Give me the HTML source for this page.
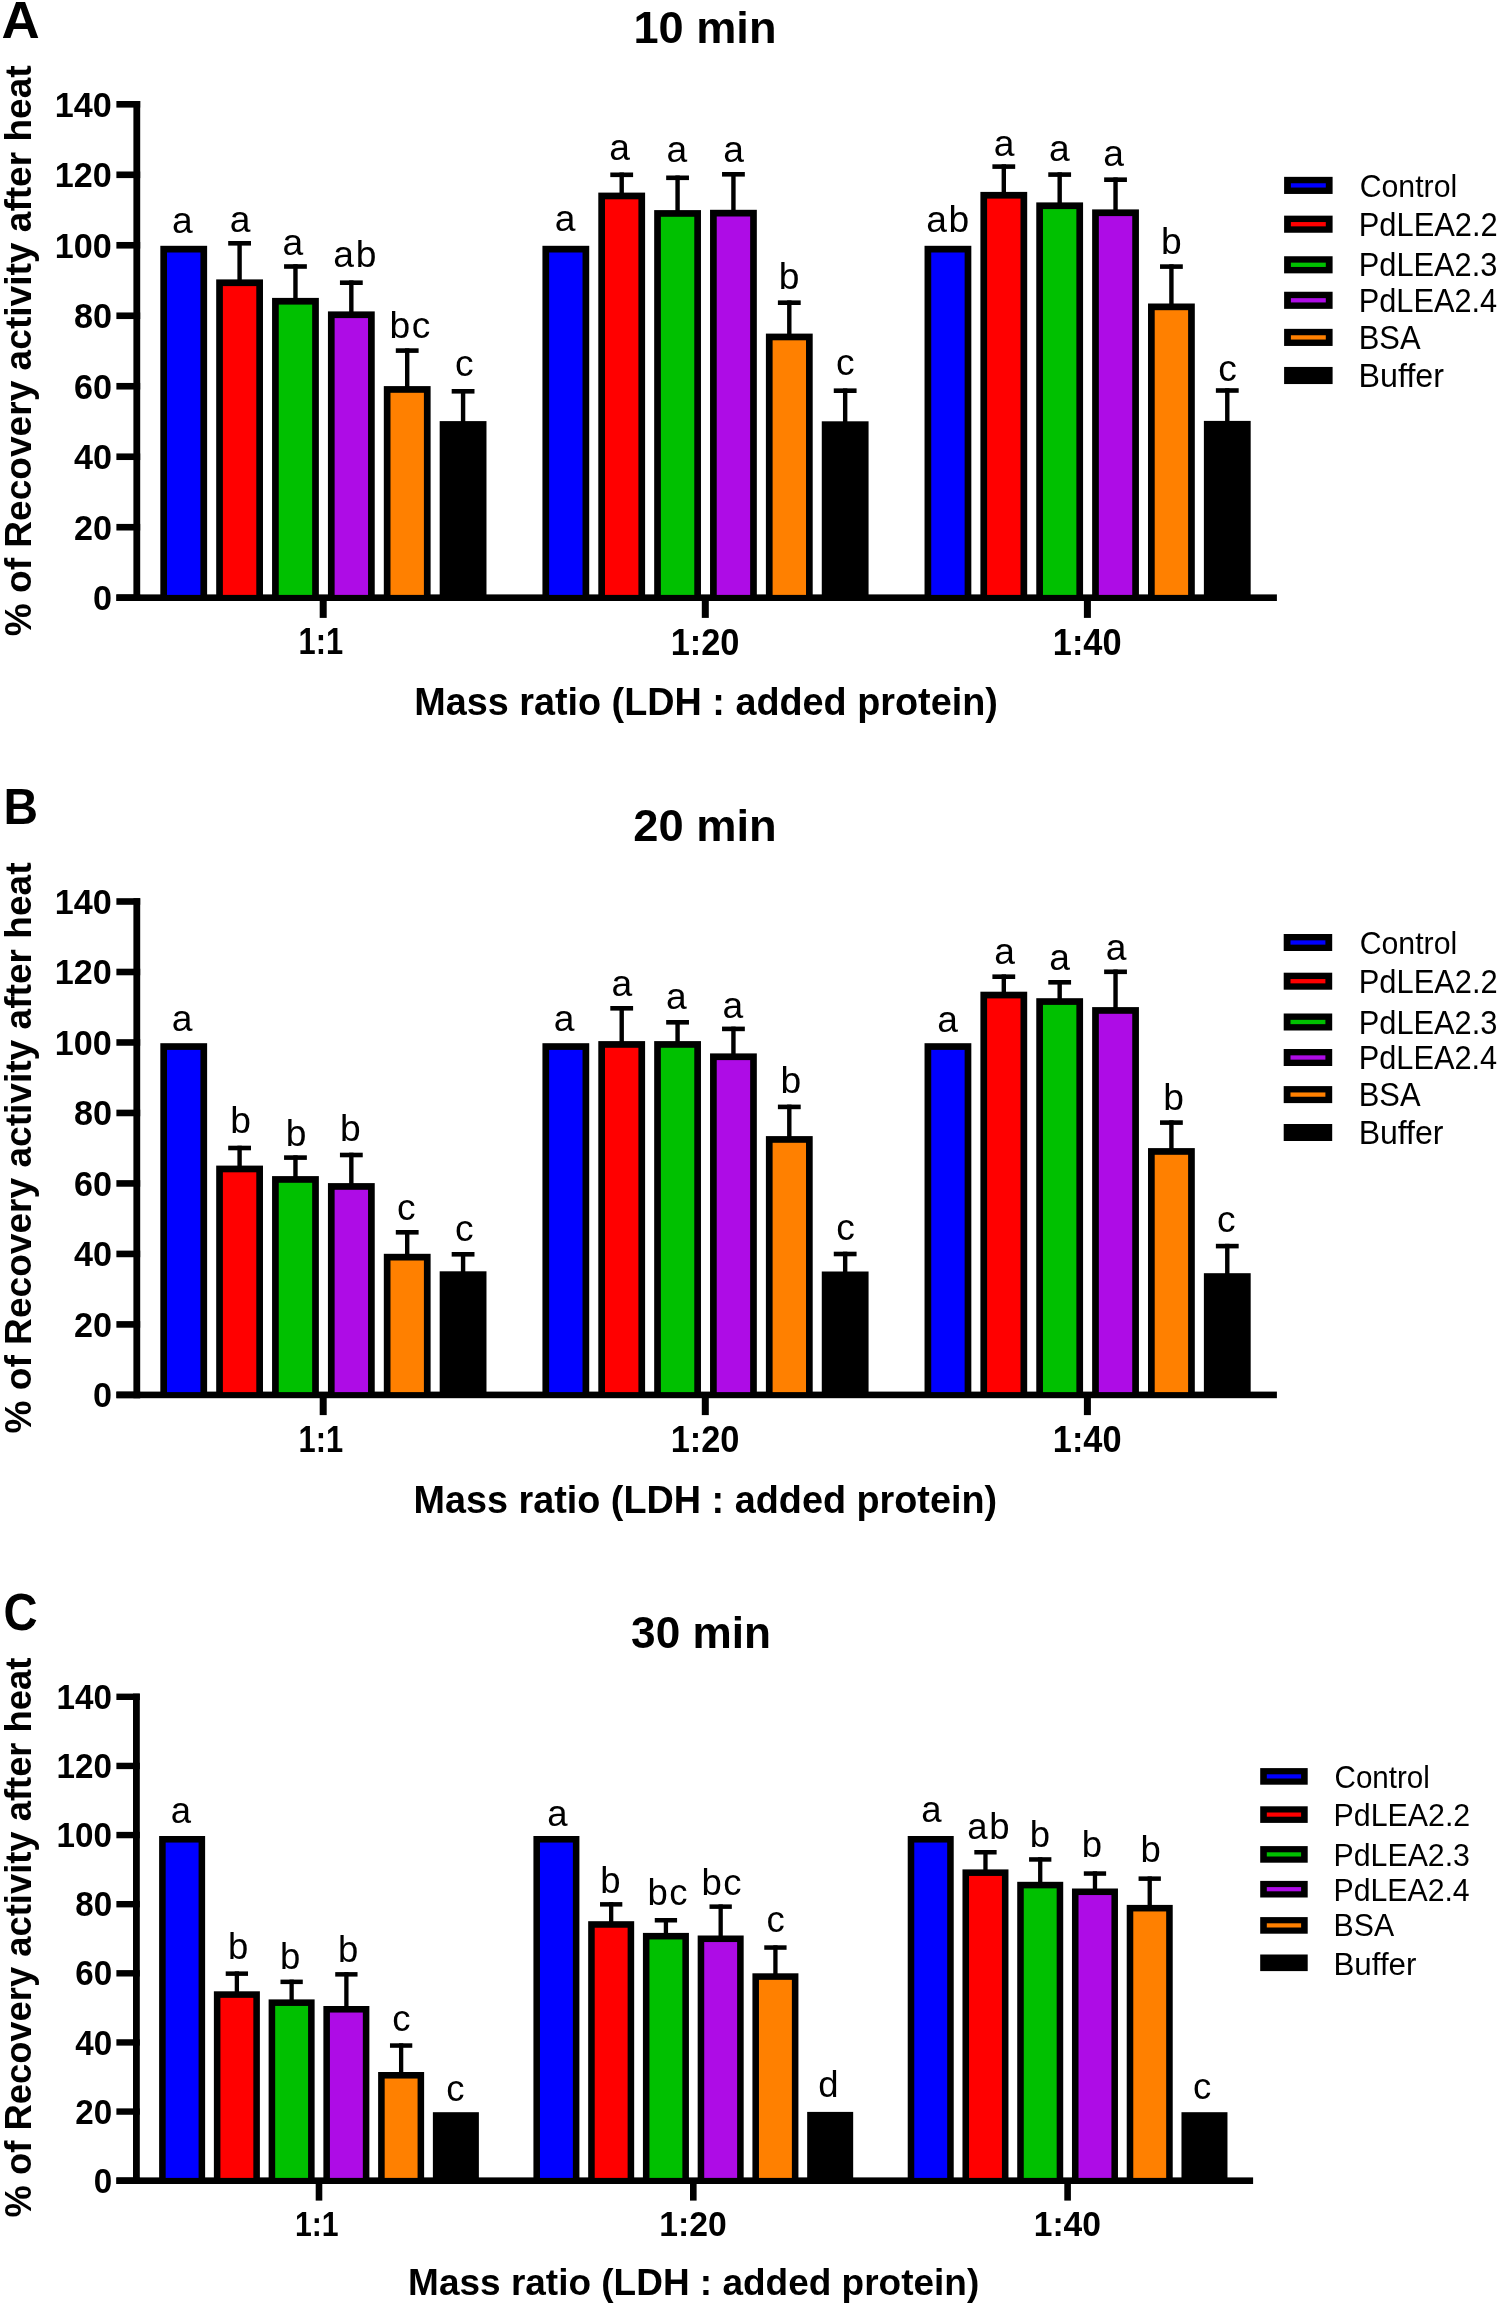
<!DOCTYPE html>
<html><head><meta charset="utf-8"><title>Recovery activity after heat</title>
<style>html,body{margin:0;padding:0;background:#fff;}svg{display:block;will-change:transform;}text{font-family:"Liberation Sans",sans-serif;fill:#000;}</style>
</head><body>
<svg width="1499" height="2306" viewBox="0 0 1499 2306">
<rect x="0" y="0" width="1499" height="2306" fill="#fff"/>
<rect x="133.40" y="101.00" width="6.80" height="500.00" fill="#000"/>
<rect x="116.40" y="594.40" width="23.80" height="6.60" fill="#000"/>
<rect x="116.40" y="523.91" width="23.80" height="6.60" fill="#000"/>
<rect x="116.40" y="453.43" width="23.80" height="6.60" fill="#000"/>
<rect x="116.40" y="382.94" width="23.80" height="6.60" fill="#000"/>
<rect x="116.40" y="312.46" width="23.80" height="6.60" fill="#000"/>
<rect x="116.40" y="241.97" width="23.80" height="6.60" fill="#000"/>
<rect x="116.40" y="171.49" width="23.80" height="6.60" fill="#000"/>
<rect x="116.40" y="101.00" width="23.80" height="6.60" fill="#000"/>
<rect x="116.40" y="594.40" width="1160.50" height="6.60" fill="#000"/>
<rect x="319.70" y="600.00" width="7.00" height="17.90" fill="#000"/>
<rect x="701.80" y="600.00" width="7.00" height="17.90" fill="#000"/>
<rect x="1083.90" y="600.00" width="7.00" height="17.90" fill="#000"/>
<rect x="160.32" y="245.80" width="46.80" height="349.60" fill="#000"/>
<rect x="167.02" y="252.50" width="33.40" height="342.40" fill="#0000ff"/>
<rect x="237.39" y="241.00" width="4.40" height="39.40" fill="#000"/>
<rect x="228.19" y="241.00" width="22.80" height="4.60" fill="#000"/>
<rect x="216.19" y="279.40" width="46.80" height="316.00" fill="#000"/>
<rect x="222.89" y="286.10" width="33.40" height="308.80" fill="#ff0000"/>
<rect x="293.26" y="264.20" width="4.40" height="34.70" fill="#000"/>
<rect x="284.06" y="264.20" width="22.80" height="4.60" fill="#000"/>
<rect x="272.06" y="297.90" width="46.80" height="297.50" fill="#000"/>
<rect x="278.76" y="304.60" width="33.40" height="290.30" fill="#00c000"/>
<rect x="349.13" y="280.40" width="4.40" height="32.00" fill="#000"/>
<rect x="339.94" y="280.40" width="22.80" height="4.60" fill="#000"/>
<rect x="327.94" y="311.40" width="46.80" height="284.00" fill="#000"/>
<rect x="334.63" y="318.10" width="33.40" height="276.80" fill="#ae0ce6"/>
<rect x="405.00" y="348.30" width="4.40" height="38.80" fill="#000"/>
<rect x="395.81" y="348.30" width="22.80" height="4.60" fill="#000"/>
<rect x="383.81" y="386.10" width="46.80" height="209.30" fill="#000"/>
<rect x="390.50" y="392.80" width="33.40" height="202.10" fill="#ff8000"/>
<rect x="460.88" y="389.00" width="4.40" height="33.10" fill="#000"/>
<rect x="451.68" y="389.00" width="22.80" height="4.60" fill="#000"/>
<rect x="439.68" y="421.10" width="46.80" height="174.30" fill="#000"/>
<rect x="542.43" y="245.80" width="46.80" height="349.60" fill="#000"/>
<rect x="549.13" y="252.50" width="33.40" height="342.40" fill="#0000ff"/>
<rect x="619.50" y="172.50" width="4.40" height="21.10" fill="#000"/>
<rect x="610.30" y="172.50" width="22.80" height="4.60" fill="#000"/>
<rect x="598.30" y="192.60" width="46.80" height="402.80" fill="#000"/>
<rect x="605.00" y="199.30" width="33.40" height="395.60" fill="#ff0000"/>
<rect x="675.37" y="175.50" width="4.40" height="35.60" fill="#000"/>
<rect x="666.17" y="175.50" width="22.80" height="4.60" fill="#000"/>
<rect x="654.17" y="210.10" width="46.80" height="385.30" fill="#000"/>
<rect x="660.87" y="216.80" width="33.40" height="378.10" fill="#00c000"/>
<rect x="731.23" y="172.00" width="4.40" height="38.80" fill="#000"/>
<rect x="722.03" y="172.00" width="22.80" height="4.60" fill="#000"/>
<rect x="710.03" y="209.80" width="46.80" height="385.60" fill="#000"/>
<rect x="716.74" y="216.50" width="33.40" height="378.40" fill="#ae0ce6"/>
<rect x="787.10" y="300.40" width="4.40" height="34.20" fill="#000"/>
<rect x="777.90" y="300.40" width="22.80" height="4.60" fill="#000"/>
<rect x="765.90" y="333.60" width="46.80" height="261.80" fill="#000"/>
<rect x="772.61" y="340.30" width="33.40" height="254.60" fill="#ff8000"/>
<rect x="842.97" y="388.40" width="4.40" height="33.90" fill="#000"/>
<rect x="833.77" y="388.40" width="22.80" height="4.60" fill="#000"/>
<rect x="821.77" y="421.30" width="46.80" height="174.10" fill="#000"/>
<rect x="924.53" y="245.80" width="46.80" height="349.60" fill="#000"/>
<rect x="931.23" y="252.50" width="33.40" height="342.40" fill="#0000ff"/>
<rect x="1001.60" y="164.30" width="4.40" height="28.60" fill="#000"/>
<rect x="992.40" y="164.30" width="22.80" height="4.60" fill="#000"/>
<rect x="980.40" y="191.90" width="46.80" height="403.50" fill="#000"/>
<rect x="987.10" y="198.60" width="33.40" height="396.30" fill="#ff0000"/>
<rect x="1057.47" y="172.30" width="4.40" height="31.10" fill="#000"/>
<rect x="1048.27" y="172.30" width="22.80" height="4.60" fill="#000"/>
<rect x="1036.27" y="202.40" width="46.80" height="393.00" fill="#000"/>
<rect x="1042.97" y="209.10" width="33.40" height="385.80" fill="#00c000"/>
<rect x="1113.34" y="177.40" width="4.40" height="33.00" fill="#000"/>
<rect x="1104.13" y="177.40" width="22.80" height="4.60" fill="#000"/>
<rect x="1092.13" y="209.40" width="46.80" height="386.00" fill="#000"/>
<rect x="1098.84" y="216.10" width="33.40" height="378.80" fill="#ae0ce6"/>
<rect x="1169.21" y="264.30" width="4.40" height="40.20" fill="#000"/>
<rect x="1160.01" y="264.30" width="22.80" height="4.60" fill="#000"/>
<rect x="1148.01" y="303.50" width="46.80" height="291.90" fill="#000"/>
<rect x="1154.71" y="310.20" width="33.40" height="284.70" fill="#ff8000"/>
<rect x="1225.08" y="388.20" width="4.40" height="33.70" fill="#000"/>
<rect x="1215.88" y="388.20" width="22.80" height="4.60" fill="#000"/>
<rect x="1203.88" y="420.90" width="46.80" height="174.50" fill="#000"/>
<text x="172.04" y="232.83" font-size="37.2" font-weight="normal">a</text>
<text x="229.74" y="231.83" font-size="37.2" font-weight="normal">a</text>
<text x="282.44" y="255.33" font-size="37.2" font-weight="normal">a</text>
<text x="333.35" y="266.83" font-size="37.2" font-weight="normal" letter-spacing="1.60">ab</text>
<text x="389.54" y="338.03" font-size="37.2" font-weight="normal" letter-spacing="1.60">bc</text>
<text x="454.91" y="376.23" font-size="37.2" font-weight="normal">c</text>
<text x="554.64" y="230.93" font-size="37.2" font-weight="normal">a</text>
<text x="609.24" y="159.73" font-size="37.2" font-weight="normal">a</text>
<text x="666.54" y="161.53" font-size="37.2" font-weight="normal">a</text>
<text x="723.34" y="161.53" font-size="37.2" font-weight="normal">a</text>
<text x="778.71" y="289.20" font-size="37.2" font-weight="normal">b</text>
<text x="836.11" y="375.33" font-size="37.2" font-weight="normal">c</text>
<text x="926.25" y="232.03" font-size="37.2" font-weight="normal" letter-spacing="1.60">ab</text>
<text x="993.64" y="155.73" font-size="37.2" font-weight="normal">a</text>
<text x="1049.04" y="161.13" font-size="37.2" font-weight="normal">a</text>
<text x="1103.34" y="166.23" font-size="37.2" font-weight="normal">a</text>
<text x="1161.11" y="253.70" font-size="37.2" font-weight="normal">b</text>
<text x="1218.21" y="380.53" font-size="37.2" font-weight="normal">c</text>
<rect x="1284.10" y="176.85" width="48.50" height="17.10" fill="#000"/>
<rect x="1290.90" y="183.25" width="34.90" height="4.30" fill="#0000ff"/>
<text transform="translate(1359.69,197.08) scale(0.9506,1)" font-size="31.83" font-weight="normal">Control</text>
<rect x="1284.10" y="215.65" width="48.50" height="17.10" fill="#000"/>
<rect x="1290.90" y="222.05" width="34.90" height="4.30" fill="#ff0000"/>
<text transform="translate(1358.73,235.60) scale(0.9425,1)" font-size="32.75" font-weight="normal">PdLEA2.2</text>
<rect x="1284.10" y="256.25" width="48.50" height="17.10" fill="#000"/>
<rect x="1290.90" y="262.65" width="34.90" height="4.30" fill="#00c000"/>
<text transform="translate(1358.74,276.40) scale(0.9403,1)" font-size="32.75" font-weight="normal">PdLEA2.3</text>
<rect x="1284.10" y="291.75" width="48.50" height="17.10" fill="#000"/>
<rect x="1290.90" y="298.15" width="34.90" height="4.30" fill="#ae0ce6"/>
<text transform="translate(1358.74,312.00) scale(0.9382,1)" font-size="32.75" font-weight="normal">PdLEA2.4</text>
<rect x="1284.10" y="328.85" width="48.50" height="17.10" fill="#000"/>
<rect x="1290.90" y="335.25" width="34.90" height="4.30" fill="#ff8000"/>
<text transform="translate(1358.73,348.70) scale(0.9430,1)" font-size="32.75" font-weight="normal">BSA</text>
<rect x="1284.10" y="366.95" width="48.50" height="17.10" fill="#000"/>
<text transform="translate(1358.62,386.90) scale(0.9842,1)" font-size="32.75" font-weight="normal">Buffer</text>
<text transform="translate(1.51,38.22) scale(1.0158,1)" font-size="52.06" font-weight="bold">A</text>
<text transform="translate(633.49,42.75) scale(1.0080,1)" font-size="44.79" font-weight="bold">10 min</text>
<text transform="translate(30.70,636.31) rotate(-90) scale(1.0067,1)" font-size="36.85" font-weight="bold">% of Recovery activity after heat</text>
<text transform="translate(414.15,715.40) scale(0.9588,1)" font-size="39.42" font-weight="bold">Mass ratio (LDH : added protein)</text>
<text transform="translate(298.55,654.30) scale(0.8558,1)" font-size="36.09" font-weight="bold">1:1</text>
<text transform="translate(670.64,654.50) scale(0.9448,1)" font-size="36.38" font-weight="bold">1:20</text>
<text transform="translate(1052.84,654.50) scale(0.9433,1)" font-size="36.38" font-weight="bold">1:40</text>
<text transform="translate(93.08,610.20) scale(0.9620,1)" font-size="35.51" font-weight="bold">0</text>
<text transform="translate(73.95,539.71) scale(0.9620,1)" font-size="35.51" font-weight="bold">20</text>
<text transform="translate(73.95,469.23) scale(0.9620,1)" font-size="35.51" font-weight="bold">40</text>
<text transform="translate(73.95,398.74) scale(0.9620,1)" font-size="35.51" font-weight="bold">60</text>
<text transform="translate(73.95,328.26) scale(0.9620,1)" font-size="35.51" font-weight="bold">80</text>
<text transform="translate(54.82,257.77) scale(0.9620,1)" font-size="35.51" font-weight="bold">100</text>
<text transform="translate(54.82,187.29) scale(0.9620,1)" font-size="35.51" font-weight="bold">120</text>
<text transform="translate(54.82,116.80) scale(0.9620,1)" font-size="35.51" font-weight="bold">140</text>
<rect x="133.40" y="898.20" width="6.80" height="500.00" fill="#000"/>
<rect x="116.40" y="1391.60" width="23.80" height="6.60" fill="#000"/>
<rect x="116.40" y="1321.11" width="23.80" height="6.60" fill="#000"/>
<rect x="116.40" y="1250.63" width="23.80" height="6.60" fill="#000"/>
<rect x="116.40" y="1180.14" width="23.80" height="6.60" fill="#000"/>
<rect x="116.40" y="1109.66" width="23.80" height="6.60" fill="#000"/>
<rect x="116.40" y="1039.17" width="23.80" height="6.60" fill="#000"/>
<rect x="116.40" y="968.69" width="23.80" height="6.60" fill="#000"/>
<rect x="116.40" y="898.20" width="23.80" height="6.60" fill="#000"/>
<rect x="116.40" y="1391.60" width="1160.50" height="6.60" fill="#000"/>
<rect x="319.70" y="1397.20" width="7.00" height="17.90" fill="#000"/>
<rect x="701.80" y="1397.20" width="7.00" height="17.90" fill="#000"/>
<rect x="1083.90" y="1397.20" width="7.00" height="17.90" fill="#000"/>
<rect x="160.32" y="1043.20" width="46.80" height="349.40" fill="#000"/>
<rect x="167.02" y="1049.90" width="33.40" height="342.20" fill="#0000ff"/>
<rect x="237.39" y="1145.70" width="4.40" height="20.90" fill="#000"/>
<rect x="228.19" y="1145.70" width="22.80" height="4.60" fill="#000"/>
<rect x="216.19" y="1165.60" width="46.80" height="227.00" fill="#000"/>
<rect x="222.89" y="1172.30" width="33.40" height="219.80" fill="#ff0000"/>
<rect x="293.26" y="1155.30" width="4.40" height="21.80" fill="#000"/>
<rect x="284.06" y="1155.30" width="22.80" height="4.60" fill="#000"/>
<rect x="272.06" y="1176.10" width="46.80" height="216.50" fill="#000"/>
<rect x="278.76" y="1182.80" width="33.40" height="209.30" fill="#00c000"/>
<rect x="349.13" y="1152.70" width="4.40" height="31.40" fill="#000"/>
<rect x="339.94" y="1152.70" width="22.80" height="4.60" fill="#000"/>
<rect x="327.94" y="1183.10" width="46.80" height="209.50" fill="#000"/>
<rect x="334.63" y="1189.80" width="33.40" height="202.30" fill="#ae0ce6"/>
<rect x="405.00" y="1230.00" width="4.40" height="24.80" fill="#000"/>
<rect x="395.81" y="1230.00" width="22.80" height="4.60" fill="#000"/>
<rect x="383.81" y="1253.80" width="46.80" height="138.80" fill="#000"/>
<rect x="390.50" y="1260.50" width="33.40" height="131.60" fill="#ff8000"/>
<rect x="460.88" y="1252.00" width="4.40" height="20.30" fill="#000"/>
<rect x="451.68" y="1252.00" width="22.80" height="4.60" fill="#000"/>
<rect x="439.68" y="1271.30" width="46.80" height="121.30" fill="#000"/>
<rect x="542.43" y="1043.20" width="46.80" height="349.40" fill="#000"/>
<rect x="549.13" y="1049.90" width="33.40" height="342.20" fill="#0000ff"/>
<rect x="619.50" y="1006.00" width="4.40" height="36.10" fill="#000"/>
<rect x="610.30" y="1006.00" width="22.80" height="4.60" fill="#000"/>
<rect x="598.30" y="1041.10" width="46.80" height="351.50" fill="#000"/>
<rect x="605.00" y="1047.80" width="33.40" height="344.30" fill="#ff0000"/>
<rect x="675.37" y="1020.00" width="4.40" height="22.10" fill="#000"/>
<rect x="666.17" y="1020.00" width="22.80" height="4.60" fill="#000"/>
<rect x="654.17" y="1041.10" width="46.80" height="351.50" fill="#000"/>
<rect x="660.87" y="1047.80" width="33.40" height="344.30" fill="#00c000"/>
<rect x="731.23" y="1026.60" width="4.40" height="27.80" fill="#000"/>
<rect x="722.03" y="1026.60" width="22.80" height="4.60" fill="#000"/>
<rect x="710.03" y="1053.40" width="46.80" height="339.20" fill="#000"/>
<rect x="716.74" y="1060.10" width="33.40" height="332.00" fill="#ae0ce6"/>
<rect x="787.10" y="1104.60" width="4.40" height="32.50" fill="#000"/>
<rect x="777.90" y="1104.60" width="22.80" height="4.60" fill="#000"/>
<rect x="765.90" y="1136.10" width="46.80" height="256.50" fill="#000"/>
<rect x="772.61" y="1142.80" width="33.40" height="249.30" fill="#ff8000"/>
<rect x="842.97" y="1251.70" width="4.40" height="20.80" fill="#000"/>
<rect x="833.77" y="1251.70" width="22.80" height="4.60" fill="#000"/>
<rect x="821.77" y="1271.50" width="46.80" height="121.10" fill="#000"/>
<rect x="924.53" y="1043.20" width="46.80" height="349.40" fill="#000"/>
<rect x="931.23" y="1049.90" width="33.40" height="342.20" fill="#0000ff"/>
<rect x="1001.60" y="974.40" width="4.40" height="18.30" fill="#000"/>
<rect x="992.40" y="974.40" width="22.80" height="4.60" fill="#000"/>
<rect x="980.40" y="991.70" width="46.80" height="400.90" fill="#000"/>
<rect x="987.10" y="998.40" width="33.40" height="393.70" fill="#ff0000"/>
<rect x="1057.47" y="980.00" width="4.40" height="19.20" fill="#000"/>
<rect x="1048.27" y="980.00" width="22.80" height="4.60" fill="#000"/>
<rect x="1036.27" y="998.20" width="46.80" height="394.40" fill="#000"/>
<rect x="1042.97" y="1004.90" width="33.40" height="387.20" fill="#00c000"/>
<rect x="1113.34" y="969.50" width="4.40" height="38.60" fill="#000"/>
<rect x="1104.13" y="969.50" width="22.80" height="4.60" fill="#000"/>
<rect x="1092.13" y="1007.10" width="46.80" height="385.50" fill="#000"/>
<rect x="1098.84" y="1013.80" width="33.40" height="378.30" fill="#ae0ce6"/>
<rect x="1169.21" y="1120.30" width="4.40" height="28.80" fill="#000"/>
<rect x="1160.01" y="1120.30" width="22.80" height="4.60" fill="#000"/>
<rect x="1148.01" y="1148.10" width="46.80" height="244.50" fill="#000"/>
<rect x="1154.71" y="1154.80" width="33.40" height="237.30" fill="#ff8000"/>
<rect x="1225.08" y="1243.80" width="4.40" height="30.40" fill="#000"/>
<rect x="1215.88" y="1243.80" width="22.80" height="4.60" fill="#000"/>
<rect x="1203.88" y="1273.20" width="46.80" height="119.40" fill="#000"/>
<text x="171.84" y="1030.93" font-size="37.2" font-weight="normal">a</text>
<text x="230.21" y="1133.30" font-size="37.2" font-weight="normal">b</text>
<text x="285.81" y="1145.70" font-size="37.2" font-weight="normal">b</text>
<text x="340.01" y="1141.00" font-size="37.2" font-weight="normal">b</text>
<text x="397.11" y="1220.03" font-size="37.2" font-weight="normal">c</text>
<text x="454.91" y="1241.03" font-size="37.2" font-weight="normal">c</text>
<text x="553.84" y="1031.33" font-size="37.2" font-weight="normal">a</text>
<text x="611.54" y="995.53" font-size="37.2" font-weight="normal">a</text>
<text x="665.94" y="1008.83" font-size="37.2" font-weight="normal">a</text>
<text x="722.54" y="1018.43" font-size="37.2" font-weight="normal">a</text>
<text x="780.51" y="1093.30" font-size="37.2" font-weight="normal">b</text>
<text x="836.31" y="1240.03" font-size="37.2" font-weight="normal">c</text>
<text x="937.14" y="1032.13" font-size="37.2" font-weight="normal">a</text>
<text x="994.34" y="964.43" font-size="37.2" font-weight="normal">a</text>
<text x="1049.24" y="969.53" font-size="37.2" font-weight="normal">a</text>
<text x="1105.74" y="959.73" font-size="37.2" font-weight="normal">a</text>
<text x="1163.31" y="1109.50" font-size="37.2" font-weight="normal">b</text>
<text x="1216.91" y="1231.73" font-size="37.2" font-weight="normal">c</text>
<rect x="1283.70" y="934.00" width="48.50" height="17.00" fill="#000"/>
<rect x="1290.50" y="940.35" width="34.90" height="4.30" fill="#0000ff"/>
<text transform="translate(1359.69,954.48) scale(0.9506,1)" font-size="31.83" font-weight="normal">Control</text>
<rect x="1283.70" y="972.70" width="48.50" height="17.00" fill="#000"/>
<rect x="1290.50" y="979.05" width="34.90" height="4.30" fill="#ff0000"/>
<text transform="translate(1358.73,993.00) scale(0.9425,1)" font-size="32.75" font-weight="normal">PdLEA2.2</text>
<rect x="1283.70" y="1013.50" width="48.50" height="17.00" fill="#000"/>
<rect x="1290.50" y="1019.85" width="34.90" height="4.30" fill="#00c000"/>
<text transform="translate(1358.74,1033.80) scale(0.9403,1)" font-size="32.75" font-weight="normal">PdLEA2.3</text>
<rect x="1283.70" y="1049.00" width="48.50" height="17.00" fill="#000"/>
<rect x="1290.50" y="1055.35" width="34.90" height="4.30" fill="#ae0ce6"/>
<text transform="translate(1358.74,1068.90) scale(0.9382,1)" font-size="32.75" font-weight="normal">PdLEA2.4</text>
<rect x="1283.70" y="1086.10" width="48.50" height="17.00" fill="#000"/>
<rect x="1290.50" y="1092.45" width="34.90" height="4.30" fill="#ff8000"/>
<text transform="translate(1358.73,1106.10) scale(0.9430,1)" font-size="32.75" font-weight="normal">BSA</text>
<rect x="1283.70" y="1124.00" width="48.50" height="17.00" fill="#000"/>
<text transform="translate(1358.64,1144.30) scale(0.9782,1)" font-size="32.75" font-weight="normal">Buffer</text>
<text transform="translate(3.45,823.90) scale(0.9574,1)" font-size="50.00" font-weight="bold">B</text>
<text transform="translate(633.34,840.96) scale(1.0234,1)" font-size="44.23" font-weight="bold">20 min</text>
<text transform="translate(30.70,1433.51) rotate(-90) scale(1.0067,1)" font-size="36.85" font-weight="bold">% of Recovery activity after heat</text>
<text transform="translate(413.45,1512.60) scale(0.9588,1)" font-size="39.42" font-weight="bold">Mass ratio (LDH : added protein)</text>
<text transform="translate(298.55,1451.50) scale(0.8558,1)" font-size="36.09" font-weight="bold">1:1</text>
<text transform="translate(670.64,1451.70) scale(0.9448,1)" font-size="36.38" font-weight="bold">1:20</text>
<text transform="translate(1052.84,1451.70) scale(0.9433,1)" font-size="36.38" font-weight="bold">1:40</text>
<text transform="translate(93.08,1407.40) scale(0.9620,1)" font-size="35.51" font-weight="bold">0</text>
<text transform="translate(73.95,1336.91) scale(0.9620,1)" font-size="35.51" font-weight="bold">20</text>
<text transform="translate(73.95,1266.43) scale(0.9620,1)" font-size="35.51" font-weight="bold">40</text>
<text transform="translate(73.95,1195.94) scale(0.9620,1)" font-size="35.51" font-weight="bold">60</text>
<text transform="translate(73.95,1125.46) scale(0.9620,1)" font-size="35.51" font-weight="bold">80</text>
<text transform="translate(54.82,1054.97) scale(0.9620,1)" font-size="35.51" font-weight="bold">100</text>
<text transform="translate(54.82,984.49) scale(0.9620,1)" font-size="35.51" font-weight="bold">120</text>
<text transform="translate(54.82,914.00) scale(0.9620,1)" font-size="35.51" font-weight="bold">140</text>
<rect x="133.00" y="1693.60" width="6.80" height="490.40" fill="#000"/>
<rect x="116.40" y="2177.50" width="23.40" height="6.40" fill="#000"/>
<rect x="116.40" y="2108.37" width="23.40" height="6.40" fill="#000"/>
<rect x="116.40" y="2039.24" width="23.40" height="6.40" fill="#000"/>
<rect x="116.40" y="1970.11" width="23.40" height="6.40" fill="#000"/>
<rect x="116.40" y="1900.99" width="23.40" height="6.40" fill="#000"/>
<rect x="116.40" y="1831.86" width="23.40" height="6.40" fill="#000"/>
<rect x="116.40" y="1762.73" width="23.40" height="6.40" fill="#000"/>
<rect x="116.40" y="1693.60" width="23.40" height="6.40" fill="#000"/>
<rect x="116.40" y="2177.40" width="1136.70" height="6.60" fill="#000"/>
<rect x="315.70" y="2183.00" width="6.60" height="17.60" fill="#000"/>
<rect x="690.00" y="2183.00" width="6.60" height="17.60" fill="#000"/>
<rect x="1064.30" y="2183.00" width="6.60" height="17.60" fill="#000"/>
<rect x="159.12" y="1836.00" width="46.00" height="342.40" fill="#000"/>
<rect x="165.68" y="1842.55" width="32.90" height="335.35" fill="#0000ff"/>
<rect x="234.72" y="1971.40" width="4.30" height="20.90" fill="#000"/>
<rect x="225.72" y="1971.40" width="22.30" height="4.50" fill="#000"/>
<rect x="213.88" y="1991.30" width="46.00" height="187.10" fill="#000"/>
<rect x="220.43" y="1997.85" width="32.90" height="180.05" fill="#ff0000"/>
<rect x="289.48" y="1979.60" width="4.30" height="20.80" fill="#000"/>
<rect x="280.48" y="1979.60" width="22.30" height="4.50" fill="#000"/>
<rect x="268.62" y="1999.40" width="46.00" height="179.00" fill="#000"/>
<rect x="275.18" y="2005.95" width="32.90" height="171.95" fill="#00c000"/>
<rect x="344.23" y="1972.10" width="4.30" height="34.90" fill="#000"/>
<rect x="335.23" y="1972.10" width="22.30" height="4.50" fill="#000"/>
<rect x="323.38" y="2006.00" width="46.00" height="172.40" fill="#000"/>
<rect x="329.93" y="2012.55" width="32.90" height="165.35" fill="#ae0ce6"/>
<rect x="398.98" y="2043.30" width="4.30" height="29.70" fill="#000"/>
<rect x="389.98" y="2043.30" width="22.30" height="4.50" fill="#000"/>
<rect x="378.12" y="2072.00" width="46.00" height="106.40" fill="#000"/>
<rect x="384.68" y="2078.55" width="32.90" height="99.35" fill="#ff8000"/>
<rect x="432.88" y="2112.20" width="46.00" height="66.20" fill="#000"/>
<rect x="533.42" y="1836.00" width="46.00" height="342.40" fill="#000"/>
<rect x="539.97" y="1842.55" width="32.90" height="335.35" fill="#0000ff"/>
<rect x="609.02" y="1902.10" width="4.30" height="20.10" fill="#000"/>
<rect x="600.02" y="1902.10" width="22.30" height="4.50" fill="#000"/>
<rect x="588.17" y="1921.20" width="46.00" height="257.20" fill="#000"/>
<rect x="594.72" y="1927.75" width="32.90" height="250.15" fill="#ff0000"/>
<rect x="663.77" y="1918.00" width="4.30" height="15.90" fill="#000"/>
<rect x="654.77" y="1918.00" width="22.30" height="4.50" fill="#000"/>
<rect x="642.92" y="1932.90" width="46.00" height="245.50" fill="#000"/>
<rect x="649.47" y="1939.45" width="32.90" height="238.45" fill="#00c000"/>
<rect x="718.52" y="1904.40" width="4.30" height="32.10" fill="#000"/>
<rect x="709.52" y="1904.40" width="22.30" height="4.50" fill="#000"/>
<rect x="697.67" y="1935.50" width="46.00" height="242.90" fill="#000"/>
<rect x="704.22" y="1942.05" width="32.90" height="235.85" fill="#ae0ce6"/>
<rect x="773.27" y="1945.30" width="4.30" height="29.00" fill="#000"/>
<rect x="764.27" y="1945.30" width="22.30" height="4.50" fill="#000"/>
<rect x="752.42" y="1973.30" width="46.00" height="205.10" fill="#000"/>
<rect x="758.97" y="1979.85" width="32.90" height="198.05" fill="#ff8000"/>
<rect x="807.17" y="2111.90" width="46.00" height="66.50" fill="#000"/>
<rect x="907.72" y="1836.00" width="46.00" height="342.40" fill="#000"/>
<rect x="914.27" y="1842.55" width="32.90" height="335.35" fill="#0000ff"/>
<rect x="983.32" y="1850.00" width="4.30" height="20.40" fill="#000"/>
<rect x="974.32" y="1850.00" width="22.30" height="4.50" fill="#000"/>
<rect x="962.47" y="1869.40" width="46.00" height="309.00" fill="#000"/>
<rect x="969.02" y="1875.95" width="32.90" height="301.95" fill="#ff0000"/>
<rect x="1038.07" y="1857.20" width="4.30" height="25.60" fill="#000"/>
<rect x="1029.07" y="1857.20" width="22.30" height="4.50" fill="#000"/>
<rect x="1017.22" y="1881.80" width="46.00" height="296.60" fill="#000"/>
<rect x="1023.77" y="1888.35" width="32.90" height="289.55" fill="#00c000"/>
<rect x="1092.82" y="1871.30" width="4.30" height="18.20" fill="#000"/>
<rect x="1083.82" y="1871.30" width="22.30" height="4.50" fill="#000"/>
<rect x="1071.97" y="1888.50" width="46.00" height="289.90" fill="#000"/>
<rect x="1078.52" y="1895.05" width="32.90" height="282.85" fill="#ae0ce6"/>
<rect x="1147.57" y="1876.40" width="4.30" height="29.50" fill="#000"/>
<rect x="1138.57" y="1876.40" width="22.30" height="4.50" fill="#000"/>
<rect x="1126.72" y="1904.90" width="46.00" height="273.50" fill="#000"/>
<rect x="1133.27" y="1911.45" width="32.90" height="266.45" fill="#ff8000"/>
<rect x="1181.47" y="2112.20" width="46.00" height="66.20" fill="#000"/>
<text x="170.75" y="1822.74" font-size="36.5" font-weight="normal">a</text>
<text x="227.91" y="1959.00" font-size="36.5" font-weight="normal">b</text>
<text x="280.12" y="1969.00" font-size="36.5" font-weight="normal">b</text>
<text x="337.92" y="1962.00" font-size="36.5" font-weight="normal">b</text>
<text x="392.29" y="2030.54" font-size="36.5" font-weight="normal">c</text>
<text x="446.19" y="2100.54" font-size="36.5" font-weight="normal">c</text>
<text x="547.35" y="1825.54" font-size="36.5" font-weight="normal">a</text>
<text x="600.21" y="1893.10" font-size="36.5" font-weight="normal">b</text>
<text x="647.42" y="1904.94" font-size="36.5" font-weight="normal" letter-spacing="1.60">bc</text>
<text x="701.42" y="1894.63" font-size="36.5" font-weight="normal" letter-spacing="1.60">bc</text>
<text x="766.49" y="1931.74" font-size="36.5" font-weight="normal">c</text>
<text x="818.13" y="2097.04" font-size="36.5" font-weight="normal">d</text>
<text x="921.35" y="1821.54" font-size="36.5" font-weight="normal">a</text>
<text x="967.34" y="1838.63" font-size="36.5" font-weight="normal" letter-spacing="1.60">ab</text>
<text x="1029.82" y="1847.10" font-size="36.5" font-weight="normal">b</text>
<text x="1081.71" y="1856.90" font-size="36.5" font-weight="normal">b</text>
<text x="1140.41" y="1862.30" font-size="36.5" font-weight="normal">b</text>
<text x="1192.99" y="2099.44" font-size="36.5" font-weight="normal">c</text>
<rect x="1260.20" y="1768.10" width="47.50" height="16.60" fill="#000"/>
<rect x="1266.80" y="1774.30" width="34.30" height="4.20" fill="#0000ff"/>
<text transform="translate(1334.52,1787.79) scale(0.9504,1)" font-size="31.13" font-weight="normal">Control</text>
<rect x="1260.20" y="1806.30" width="47.50" height="16.60" fill="#000"/>
<rect x="1266.80" y="1812.50" width="34.30" height="4.20" fill="#ff0000"/>
<text transform="translate(1333.57,1825.70) scale(0.9481,1)" font-size="32.03" font-weight="normal">PdLEA2.2</text>
<rect x="1260.20" y="1846.10" width="47.50" height="16.60" fill="#000"/>
<rect x="1266.80" y="1852.30" width="34.30" height="4.20" fill="#00c000"/>
<text transform="translate(1333.58,1866.10) scale(0.9459,1)" font-size="32.03" font-weight="normal">PdLEA2.3</text>
<rect x="1260.20" y="1880.90" width="47.50" height="16.60" fill="#000"/>
<rect x="1266.80" y="1887.10" width="34.30" height="4.20" fill="#ae0ce6"/>
<text transform="translate(1333.58,1900.50) scale(0.9438,1)" font-size="32.03" font-weight="normal">PdLEA2.4</text>
<rect x="1260.20" y="1917.10" width="47.50" height="16.60" fill="#000"/>
<rect x="1266.80" y="1923.30" width="34.30" height="4.20" fill="#ff8000"/>
<text transform="translate(1333.58,1936.40) scale(0.9448,1)" font-size="32.03" font-weight="normal">BSA</text>
<rect x="1260.20" y="1954.50" width="47.50" height="16.60" fill="#000"/>
<text transform="translate(1333.50,1974.50) scale(0.9771,1)" font-size="32.03" font-weight="normal">Buffer</text>
<text transform="translate(3.41,1629.89) scale(0.9213,1)" font-size="51.27" font-weight="bold">C</text>
<text transform="translate(631.12,1647.96) scale(1.0110,1)" font-size="43.66" font-weight="bold">30 min</text>
<text transform="translate(31.00,2217.39) rotate(-90) scale(0.9983,1)" font-size="36.44" font-weight="bold">% of Recovery activity after heat</text>
<text transform="translate(408.11,2294.80) scale(0.9814,1)" font-size="37.68" font-weight="bold">Mass ratio (LDH : added protein)</text>
<text transform="translate(294.99,2236.00) scale(0.8688,1)" font-size="34.78" font-weight="bold">1:1</text>
<text transform="translate(659.28,2236.20) scale(0.9604,1)" font-size="35.07" font-weight="bold">1:20</text>
<text transform="translate(1033.68,2236.20) scale(0.9589,1)" font-size="35.07" font-weight="bold">1:40</text>
<text transform="translate(93.78,2192.85) scale(0.9620,1)" font-size="34.49" font-weight="bold">0</text>
<text transform="translate(75.20,2123.72) scale(0.9620,1)" font-size="34.49" font-weight="bold">20</text>
<text transform="translate(75.20,2054.59) scale(0.9620,1)" font-size="34.49" font-weight="bold">40</text>
<text transform="translate(75.20,1985.46) scale(0.9620,1)" font-size="34.49" font-weight="bold">60</text>
<text transform="translate(75.20,1916.34) scale(0.9620,1)" font-size="34.49" font-weight="bold">80</text>
<text transform="translate(56.61,1847.21) scale(0.9620,1)" font-size="34.49" font-weight="bold">100</text>
<text transform="translate(56.61,1778.08) scale(0.9620,1)" font-size="34.49" font-weight="bold">120</text>
<text transform="translate(56.61,1708.95) scale(0.9620,1)" font-size="34.49" font-weight="bold">140</text>
</svg>
</body></html>
